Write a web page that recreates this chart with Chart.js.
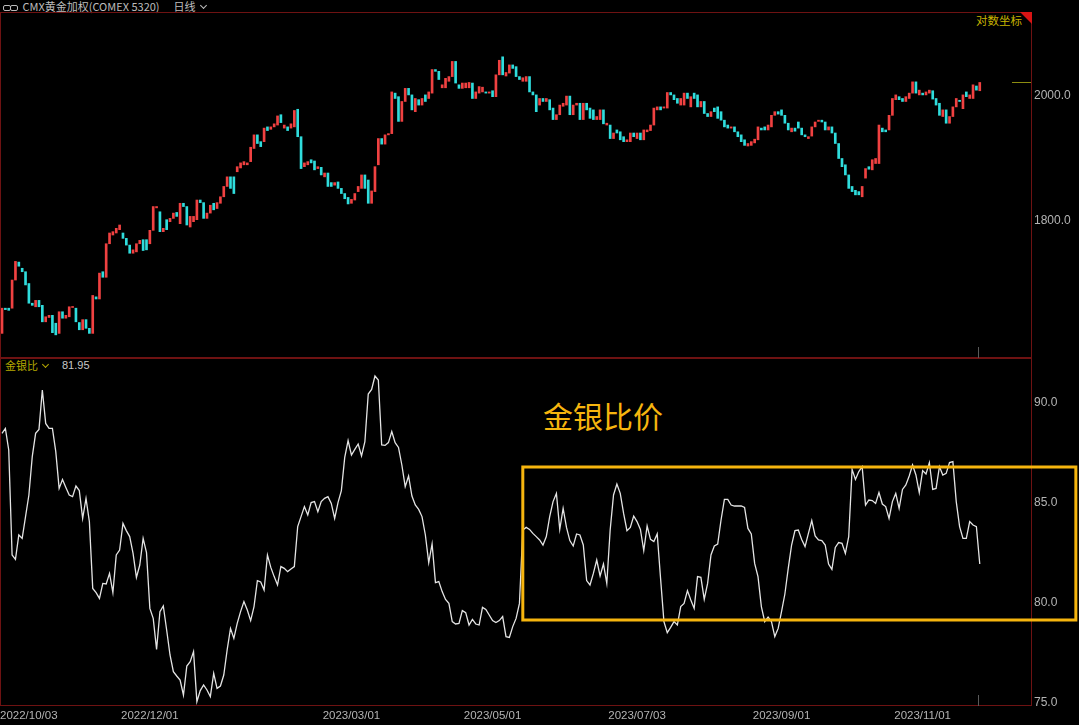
<!DOCTYPE html>
<html>
<head>
<meta charset="utf-8">
<script src="https://cdn.jsdelivr.net/npm/chart.js@4.4.1/dist/chart.umd.min.js"></script>
<style>
  html, body { margin: 0; background: #000; width: 1079px; height: 725px; overflow: hidden; }
  body { position: relative; font-family: "Noto Sans CJK SC", "Liberation Sans", sans-serif; }
  canvas { position: absolute; left: 0; }
  #top { top: 12px; }
  #bot { top: 358px; }
  .t { position: absolute; white-space: nowrap; line-height: 1; }
  .chev { display: inline-block; width: 4px; height: 4px; border-right: 1.3px solid currentColor; border-bottom: 1.3px solid currentColor; transform: rotate(45deg); position: relative; top: -3px; margin-left: 5px; }
</style>
</head>
<body>
<div class="t" style="left:3px;top:1px;font-size:11px;color:#bdbdbd">
  <span style="display:inline-block;width:6px;height:4px;border:1px solid #bbb;border-radius:2px;vertical-align:middle"></span><span style="display:inline-block;width:6px;height:4px;border:1px solid #bbb;border-radius:2px;vertical-align:middle;margin-left:-1px"></span>
  <span style="margin-left:2px">CMX黄金加权(COMEX 5320)</span><span style="margin-left:14px">日线</span><span class="chev"></span>
</div>
<div class="t" style="left:976px;top:15px;font-size:11.5px;color:#c8b400">对数坐标</div>
<div class="t" style="left:5px;top:360px;font-size:11px;color:#b5a800">金银比<span class="chev"></span></div>
<div class="t" style="left:62px;top:360px;font-size:11px;color:#c8c8c8;font-family:'Liberation Sans',sans-serif">81.95</div>
<div class="t" style="left:543px;top:400px;font-size:30px;color:#f6b50e">金银比价</div>

<canvas id="top" width="1079" height="346"></canvas>
<canvas id="bot" width="1079" height="367"></canvas>

<script>
// COMEX gold (weighted), daily, 2022/09/29 .. 2023/11/27 — open / close per session
const opens = [
  1638,1673,1673,1673,1713,1739,1730,1725,1708,1680,1675,1684,1677,1654,1660,1663,1652,1638,1668,1659,
  1661,1674,1673,1653,1643,1657,1645,1638,1689,1686,1725,1717,1766,1779,1782,1787,1782,1774,1764,1752,
  1754,1766,1772,1772,1766,1786,1820,1814,1784,1802,1799,1804,1813,1796,1827,1822,1791,1799,1802,1832,
  1828,1804,1812,1827,1819,1827,1837,1853,1868,1868,1876,1882,1887,1887,1892,1913,1935,1924,1924,1948,
  1944,1948,1951,1968,1946,1948,1946,1948,1977,1932,1884,1887,1895,1893,1881,1883,1868,1874,1859,1855,
  1860,1850,1842,1836,1827,1832,1845,1850,1871,1863,1827,1845,1887,1929,1920,1935,1937,2004,1998,1957,
  1990,2012,2001,1973,1993,1984,2001,1995,2004,2044,2041,2013,2013,2024,2032,2058,2018,2012,2013,2013,
  2021,1995,2004,2006,2006,2004,2008,1998,2035,2066,2033,2038,2052,2049,2032,2024,2024,2032,2006,2001,
  1984,1995,1990,1993,1979,1960,1968,1982,1984,1999,1968,1984,1987,1960,1987,1979,1976,1960,1960,1976,
  1951,1951,1929,1943,1940,1932,1924,1924,1938,1929,1938,1927,1940,1942,1951,1976,1981,1979,1979,2005,
  2001,1995,1984,1984,2004,1981,2004,2001,1981,1990,1970,1965,1979,1981,1973,1959,1951,1946,1948,1940,
  1935,1927,1917,1918,1922,1927,1946,1948,1943,1948,1967,1973,1976,1967,1954,1940,1946,1956,1946,1935,
  1929,1933,1948,1957,1959,1956,1943,1948,1938,1921,1897,1887,1871,1853,1847,1845,1837,1866,1884,1879,
  1889,1889,1946,1943,1943,1967,1993,1998,1995,1990,1995,2004,2023,2001,2004,2001,2004,2008,1995,1987,
  1965,1976,1954,1965,1981,1992,1978,2006,1995,1995,2016,2008
];
const closes = [
  1673,1671,1670,1713,1740,1733,1725,1706,1680,1677,1684,1675,1654,1661,1663,1639,1636,1668,1659,1663,
  1675,1675,1654,1643,1657,1645,1638,1691,1686,1723,1717,1766,1782,1784,1789,1794,1774,1764,1752,1757,
  1766,1771,1756,1757,1786,1822,1822,1784,1789,1787,1804,1812,1807,1827,1822,1794,1807,1807,1832,1828,
  1804,1812,1824,1817,1828,1837,1853,1868,1850,1842,1884,1890,1892,1890,1915,1935,1921,1916,1946,1942,
  1948,1953,1966,1955,1951,1942,1953,1975,1932,1881,1890,1892,1890,1879,1884,1871,1874,1853,1853,1859,
  1850,1842,1834,1826,1833,1842,1853,1871,1850,1827,1846,1884,1929,1920,1935,1937,2006,1995,1957,1990,
  2012,2001,1976,1995,1984,1995,1990,2006,2044,2041,2027,2018,2029,2032,2058,2021,2012,2021,2021,2022,
  1995,2006,2015,2014,2004,2006,1998,2035,2060,2035,2039,2052,2046,2032,2027,2030,2032,2006,2001,1973,
  1995,1990,1995,1976,1960,1968,1984,1987,1999,1968,1984,1987,1960,1987,1976,1962,1960,1965,1976,1953,
  1954,1929,1938,1938,1927,1924,1927,1938,1932,1938,1927,1943,1943,1951,1979,1981,1976,1981,2005,2001,
  1993,1987,1995,2004,1995,1998,1995,1981,1990,1970,1965,1973,1973,1962,1959,1948,1946,1948,1940,1932,
  1924,1918,1921,1924,1928,1948,1943,1943,1951,1967,1973,1969,1967,1954,1943,1946,1941,1946,1935,1932,
  1932,1948,1956,1959,1956,1943,1948,1938,1921,1897,1884,1871,1850,1845,1840,1840,1853,1881,1880,1895,
  1897,1951,1940,1940,1967,1995,2001,1993,1990,1998,2004,2023,2004,2009,2001,2006,2009,1994,1984,1967,
  1976,1954,1965,1981,1995,1990,2001,1998,2001,2018,2009,2022
];
// gold / silver ratio, same sessions
const ratio = [
  88.48,88.73,87.65,82.4,82.18,83.40,83.23,84.32,85.4,87.32,
  88.48,88.68,90.65,88.98,88.73,88.73,87.57,85.73,86.18,85.78,
  85.4,85.32,85.85,85.62,84.23,85.23,84.07,80.73,80.52,80.23,
  80.98,80.95,81.48,80.52,82.4,82.65,83.98,83.62,83.32,82.48,
  81.28,81.9,83.23,82.52,79.73,79.23,77.68,79.57,79.85,78.65,
  77.4,76.57,76.35,76.15,75.4,76.85,77.07,77.57,75.07,75.62,
  75.9,75.65,75.32,76.48,75.73,75.85,76.4,77.65,78.73,78.23,
  78.98,79.57,80.07,79.65,79.12,79.82,81.12,81.05,80.65,82.4,
  81.78,81.32,80.9,81.82,81.73,81.57,81.7,81.82,83.82,84.32,
  84.82,84.4,85.02,85.07,84.57,85.07,85.23,85.32,84.98,84.23,
  85.02,85.62,87.28,88.12,87.4,87.68,87.95,87.35,88.07,90.45,
  90.68,91.35,91.15,87.9,87.88,88.02,88.57,88.02,87.78,86.9,
  85.82,86.35,85.35,84.9,84.68,84.32,83.4,82.02,82.95,81.02,
  81.07,80.57,80.18,79.98,79.07,78.95,78.98,79.62,79.52,78.9,
  79.18,78.95,78.9,79.78,79.68,79.4,79.12,79.02,79.12,79.32,
  78.32,78.28,78.82,79.23,79.98,83.65,83.78,83.68,83.48,83.32,
  83.15,82.9,83.32,84.32,85.07,85.48,83.68,84.73,83.78,83.12,
  82.85,83.45,83.4,82.9,81.12,80.9,81.48,82.15,81.35,81.95,
  80.98,83.65,85.4,85.95,85.48,84.48,83.62,83.78,84.35,84.07,
  83.68,82.62,83.85,83.18,83.07,83.45,81.23,79.07,78.52,78.78,
  79.07,78.9,79.82,79.98,80.62,80.15,79.73,81.32,81.28,80.18,
  80.98,82.4,82.85,82.95,84.15,85.18,85.18,84.9,84.85,84.85,
  84.85,84.78,83.73,83.45,81.98,81.32,79.82,79.07,79.3,79.07,
  78.32,78.73,79.57,80.45,81.73,82.9,83.62,83.65,83.18,82.82,
  83.48,84.12,83.35,83.15,83.12,82.9,81.95,81.68,82.78,83.02,
  82.98,82.48,83.32,86.68,86.18,86.57,86.82,84.9,85.15,85.12,
  84.98,85.52,84.95,84.82,84.23,85.07,85.48,84.73,85.68,85.9,
  86.35,86.9,86.4,85.52,86.62,86.45,87.02,85.68,85.73,86.82,
  86.4,86.48,87.02,87.07,85.07,83.82,83.23,83.23,84.07,83.9,
  83.82,81.95
];
// date axis: session index -> label
const tickIdx = [2, 44, 104, 146, 189, 232, 274];
const tickText = ["2022/10/03", "2022/12/01", "2023/03/01", "2023/05/01", "2023/07/03", "2023/09/01", "2023/11/01"];
const priceTicks = [1800, 2000];
const ratioTicks = [75, 80, 85, 90];
// highlighted range on the ratio panel (session index / ratio values)
const boxFrom = 155, boxTo = 319.6, boxLo = 79.15, boxHi = 86.8;

const UP = "#f04141", DOWN = "#2fdcdc", FRAME = "#6e1212", AXIS = "#b4b4b4", GOLD = "#f6b50e";
const X_MIN = -0.6, X_MAX = 306.25;
const last = closes.length - 1;

Chart.defaults.font.family = "'Liberation Sans', Arial, sans-serif";

const baseOpts = {
  responsive: false, animation: false, events: [],
  plugins: { legend: { display: false }, tooltip: { enabled: false } },
};
const xAxis = { type: "linear", min: X_MIN, max: X_MAX, offset: false, display: false };
const yAxis = (ticks, extra) => Object.assign({
  position: "right",
  grid: { display: false, drawTicks: false },
  border: { display: false },
  afterBuildTicks: (s) => { s.ticks = ticks.map((v) => ({ value: v })); },
  // fixed axis strip, and no label overhang padding so the plot fills the panel
  afterFit: (s) => { s.width = 48; s.paddingTop = 0; s.paddingBottom = 0; },
  ticks: { color: AXIS, font: { size: 12 }, padding: 3, callback: (v) => Number(v).toFixed(1) },
}, extra);

// frame + end-of-data marker, shared by both panels
const frame = {
  id: "frame",
  afterDraw(chart) {
    const { ctx, chartArea: a, scales } = chart;
    ctx.save();
    ctx.strokeStyle = FRAME; ctx.lineWidth = 1;
    ctx.strokeRect(a.left + 0.5, a.top + 0.5, a.right - a.left, a.bottom - a.top - 1);
    const xl = Math.round(scales.x.getPixelForValue(last)) - 1.5;
    ctx.strokeStyle = "#5a5a5a";
    ctx.beginPath(); ctx.moveTo(xl, a.bottom - 11); ctx.lineTo(xl, a.bottom); ctx.stroke();
    ctx.restore();
  },
};

const priceExtras = {
  id: "priceExtras",
  afterDraw(chart) {
    const { ctx, chartArea: a, scales } = chart;
    ctx.save();
    ctx.fillStyle = "#d81414";
    ctx.beginPath(); ctx.moveTo(a.right - 11, a.top); ctx.lineTo(a.right + 1, a.top); ctx.lineTo(a.right + 1, a.top + 12); ctx.closePath(); ctx.fill();
    const y = Math.round(scales.y.getPixelForValue(closes[last])) + 0.5;
    ctx.strokeStyle = "#8c8c10"; ctx.lineWidth = 1;
    ctx.beginPath(); ctx.moveTo(a.right - 19, y); ctx.lineTo(a.right, y); ctx.stroke();
    ctx.restore();
  },
};

const ratioExtras = {
  id: "ratioExtras",
  afterDraw(chart) {
    const { ctx, chartArea: a, scales: { x, y } } = chart;
    ctx.save();
    ctx.strokeStyle = GOLD; ctx.lineWidth = 3;
    const l = x.getPixelForValue(boxFrom), r = x.getPixelForValue(boxTo);
    const t = y.getPixelForValue(boxHi), b = y.getPixelForValue(boxLo);
    ctx.strokeRect(l, t, r - l, b - t);
    ctx.fillStyle = AXIS; ctx.font = "11.5px 'Liberation Sans', Arial, sans-serif";
    ctx.textBaseline = "middle";
    tickIdx.forEach((i, k) => {
      const w = ctx.measureText(tickText[k]).width;
      const cx = x.getPixelForValue(i);
      ctx.fillText(tickText[k], Math.max(0, cx - w / 2), a.bottom + 10);
    });
    ctx.restore();
  },
};

new Chart(document.getElementById("top"), {
  type: "bar",
  data: {
    datasets: [{
      data: closes.map((c, i) => ({ x: i, y: [opens[i], c] })),
      backgroundColor: closes.map((c, i) => (c >= opens[i] ? UP : DOWN)),
      barThickness: 2, minBarLength: 1,
    }],
  },
  options: Object.assign({}, baseOpts, {
    layout: { padding: 0 },
    scales: {
      x: xAxis,
      y: yAxis(priceTicks, { type: "logarithmic", min: 1604.5, max: 2145.2 }),
    },
  }),
  plugins: [frame, priceExtras],
});

new Chart(document.getElementById("bot"), {
  type: "line",
  data: {
    datasets: [{
      data: ratio.map((v, i) => ({ x: i, y: v })),
      borderColor: "#e4e4e4", borderWidth: 1.3, pointRadius: 0, tension: 0,
    }],
  },
  options: Object.assign({}, baseOpts, {
    layout: { padding: { bottom: 19 } },
    scales: {
      x: xAxis,
      y: yAxis(ratioTicks, { type: "linear", min: 74.85, max: 92.25 }),
    },
  }),
  plugins: [frame, ratioExtras],
});
</script>
</body>
</html>
